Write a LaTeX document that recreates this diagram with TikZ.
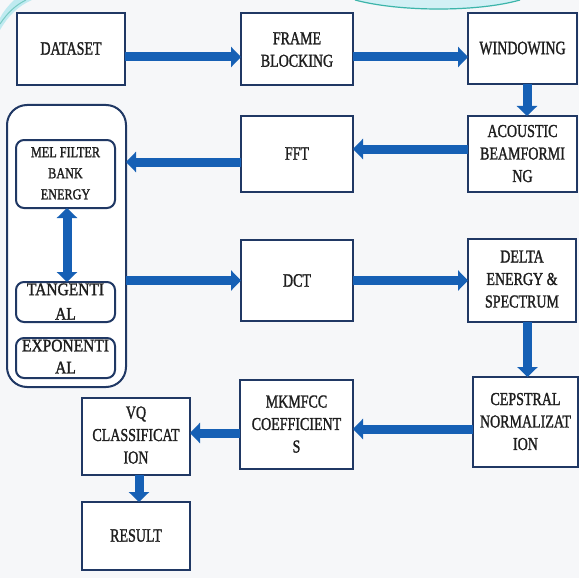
\documentclass[tikz,border=0pt]{standalone}
\usepackage{fontspec}
\setmainfont{Liberation Serif}
\newfontfamily\heavyserif{Liberation Serif}[FakeBold=1.6]
\usepackage{graphicx}
\usetikzlibrary{arrows.meta}
\definecolor{bg}{HTML}{F6F7F9}
\definecolor{navy}{HTML}{203864}
\definecolor{arr}{HTML}{1660B5}
\definecolor{txt}{HTML}{1E1E1E}
\definecolor{teal1}{HTML}{3DB5AA}
\definecolor{cyan1}{HTML}{BFEAF0}
\newcommand\vs[2]{\scalebox{1}[#1]{\begin{tabular}{@{}c@{}}#2\end{tabular}}}
\begin{document}
\begin{tikzpicture}[x=1pt,y=-1pt,
  box/.style={draw=navy, line width=2pt, fill=white, inner sep=0pt, outer sep=0pt},
  rbox/.style={box, rounded corners=8pt},
  lbl/.style={text=txt, inner sep=0pt, font=\heavyserif\fontsize{14}{17.3}\selectfont},
  slbl/.style={text=txt, inner sep=0pt, font=\heavyserif\fontsize{12.2}{17}\selectfont},
  tlbl/.style={text=txt, inner sep=0pt, font=\heavyserif\fontsize{15.5}{21.5}\selectfont},
  elbl/.style={text=txt, inner sep=0pt, font=\heavyserif\fontsize{15.5}{19.3}\selectfont},
  blk/.style={draw=arr, line width=9pt, -{Triangle[width=20pt,length=10pt]}},
  dblk/.style={draw=arr, line width=9pt, {Triangle[width=20pt,length=10pt]}-{Triangle[width=20pt,length=10pt]}},
]
\fill[bg] (0,0) rectangle (579,578);
\useasboundingbox (0,0) rectangle (579,578);
% decorations
\fill[cyan1] (0,30) .. controls (8,16) and (18,6) .. (32,0) -- (14,0) .. controls (8,6) and (3,12) .. (0,18) -- cycle;
\draw[teal1!70, line width=1pt] (0,24) .. controls (8,12) and (16,5) .. (26,0);
\fill[cyan1!70] (355,0) .. controls (400,13) and (478,13) .. (520,0) -- cycle;
\draw[teal1, line width=1.2pt] (355,0) .. controls (400,12) and (478,12) .. (520,0);

% boxes
\node[box, minimum width=108pt, minimum height=72pt] (dataset) at (71,49) {};
\node[box, minimum width=112pt, minimum height=72pt] (frame) at (297,49) {};
\node[box, minimum width=109pt, minimum height=71pt] (windowing) at (522.5,48.5) {};
\node[box, minimum width=109pt, minimum height=76pt] (acoustic) at (522.5,154) {};
\node[box, minimum width=112pt, minimum height=76pt] (fft) at (297,154) {};
\node[box, rounded corners=20pt, minimum width=119pt, minimum height=282pt] (outer) at (66.5,246) {};
\node[rbox, minimum width=99pt, minimum height=68pt] (mel) at (65.5,174) {};
\node[rbox, minimum width=99pt, minimum height=40pt] (tang) at (65.5,302) {};
\node[rbox, minimum width=99pt, minimum height=40pt] (expo) at (65.5,358) {};
\node[box, minimum width=112pt, minimum height=81pt] (dct) at (297,280.5) {};
\node[box, minimum width=108pt, minimum height=83pt] (delta) at (522,280.5) {};
\node[box, minimum width=105pt, minimum height=90pt] (cepstral) at (525.5,422) {};
\node[box, minimum width=113pt, minimum height=89pt] (mkmfcc) at (296.5,424.5) {};
\node[box, minimum width=108pt, minimum height=77pt] (vq) at (136,436.5) {};
\node[box, minimum width=108pt, minimum height=68pt] (result) at (136,536) {};

% texts
\node[lbl] (tdataset) at ([yshift=-1pt]dataset.center) {\vs{1.35}{DATASET}};
\node[lbl] (tframe) at ([yshift=-2pt]frame.center) {\vs{1.3}{FRAME\\BLOCKING}};
\node[lbl] (twin) at ([yshift=-1pt]windowing.center) {\vs{1.35}{WINDOWING}};
\node[lbl] (tacou) at ([yshift=-1pt]acoustic.center) {\vs{1.3}{ACOUSTIC\\BEAMFORMI\\NG}};
\node[lbl] (tfft) at ([yshift=-1pt]fft.center) {\vs{1.35}{FFT}};
\node[slbl] (tmel) at (mel.center) {\vs{1.24}{MEL FILTER\\BANK\\ENERGY}};
\node[tlbl] (ttang) at ([yshift=-0.5pt]tang.center) {\vs{1.14}{TANGENTI\\AL}};
\node[elbl] (texpo) at (expo.center) {\vs{1.14}{EXPONENTI\\AL}};
\node[lbl] (tdct) at ([yshift=-1.5pt]dct.center) {\vs{1.35}{DCT}};
\node[lbl] (tdelta) at (delta.center) {\vs{1.3}{DELTA\\ENERGY \&\\SPECTRUM}};
\node[lbl] (tcep) at ([yshift=-1pt]cepstral.center) {\vs{1.3}{CEPSTRAL\\NORMALIZAT\\ION}};
\node[lbl] (tmk) at ([yshift=-1pt]mkmfcc.center) {\vs{1.3}{MKMFCC\\COEFFICIENT\\S}};
\node[lbl] (tvq) at (vq.center) {\vs{1.3}{VQ\\CLASSIFICAT\\ION}};
\node[lbl] (tres) at ([yshift=-1pt]result.center) {\vs{1.35}{RESULT}};

% arrows
\draw[blk] ([yshift=-8pt]dataset.east) -- ([yshift=-8pt]dataset.east -| frame.west);
\draw[blk] ([yshift=-8pt]frame.east) -- ([yshift=-8pt]frame.east -| windowing.west);
\draw[blk] ([xshift=4.5pt]windowing.south) -- ([xshift=4.5pt]windowing.south |- acoustic.north);
\draw[blk] ([yshift=5pt]acoustic.west) -- ([yshift=5pt]acoustic.west -| fft.east);
\draw[blk] ([yshift=-8pt]fft.west) -- ([yshift=-8pt]fft.west -| outer.east);
\draw[dblk] ([xshift=1.5pt]mel.south) -- ([xshift=1.5pt]mel.south |- tang.north);
\draw[blk] (dct.west -| outer.east) -- (dct.west);
\draw[blk] (dct.east) -- (dct.east -| delta.west);
\draw[blk] ([xshift=2pt]cepstral.north |- delta.south) -- ([xshift=2pt]cepstral.north);
\draw[blk] ([yshift=-7pt]cepstral.west) -- ([yshift=-7pt]cepstral.west -| mkmfcc.east);
\draw[blk] ([yshift=-8.5pt]mkmfcc.west) -- ([yshift=-8.5pt]mkmfcc.west -| vq.east);
\draw[blk] ([xshift=3pt]vq.south) -- ([xshift=3pt]vq.south |- result.north);
\end{tikzpicture}
\end{document}
